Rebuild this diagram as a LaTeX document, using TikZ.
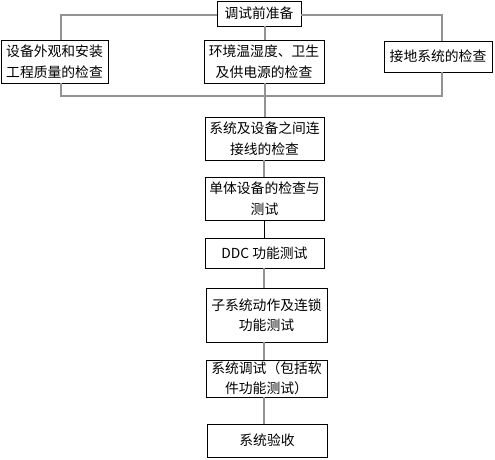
\documentclass[tikz,border=0pt]{standalone}
\usepackage{fontspec}
\setmainfont{Noto Sans CJK SC}
\begin{document}
\begin{tikzpicture}[x=1pt,y=-1pt,
  box/.style={draw=black, line width=0.8pt, inner sep=0pt, align=center, font=\fontsize{13.8}{20.5}\selectfont},
  conn/.style={draw=gray!85, line width=1.1pt},
  connb/.style={draw=black, line width=0.8pt}]
\useasboundingbox (0,0) rectangle (495,460);
\node[box, minimum width=84, minimum height=25] (top) at (259,13.5) {调试前准备};
\node[box, minimum width=107, minimum height=43] (left) at (54.5,61.5) {设备外观和安装\\工程质量的检查};
\node[box, minimum width=120, minimum height=43] (mid) at (264,61.5) {环境温湿度、卫生\\及供电源的检查};
\node[box, minimum width=108, minimum height=31] (right) at (438,56.5) {接地系统的检查};
\node[box, minimum width=119, minimum height=43] (b1) at (264.5,138.5) {系统及设备之间连\\接线的检查};
\node[box, minimum width=119, minimum height=43] (b2) at (264.5,198.5) {单体设备的检查与\\测试};
\node[box, minimum width=119, minimum height=30] (b3) at (264.5,253) {DDC 功能测试};
\node[box, minimum width=121, minimum height=54] (b4) at (266.5,315) {子系统动作及连锁\\功能测试};
\node[box, minimum width=121, minimum height=37] (b5) at (266.5,378.5) {系统调试（包括软\\件功能测试）};
\node[box, minimum width=120, minimum height=33] (b6) at (267,440.5) {系统验收};
\coordinate (tl) at (61,15);
\coordinate (tr) at (442,15);
\coordinate (bl) at (61,96);
\coordinate (br) at (442,96);
\draw[conn] (top.west |- tl) -- (tl) -- (tl |- left.north);
\draw[conn] (top.east |- tr) -- (tr) -- (tr |- right.north);
\draw[conn] (mid.north -| 265,0) -- (265,0 |- top.south);
\draw[conn] (tl |- left.south) -- (bl) -- (br) -- (br |- right.south);
\draw[conn] (265,0 |- mid.south) -- (265,0 |- b1.north);
\draw[conn] (264,0 |- b1.south) -- (264,0 |- b2.north);
\draw[connb] (264,0 |- b2.south) -- (264,0 |- b3.north);
\draw[conn] (264,0 |- b3.south) -- (264,0 |- b4.north);
\draw[conn] (264,0 |- b4.south) -- (264,0 |- b5.north);
\draw[conn] (264,0 |- b5.south) -- (264,0 |- b6.north);
\end{tikzpicture}
\end{document}
